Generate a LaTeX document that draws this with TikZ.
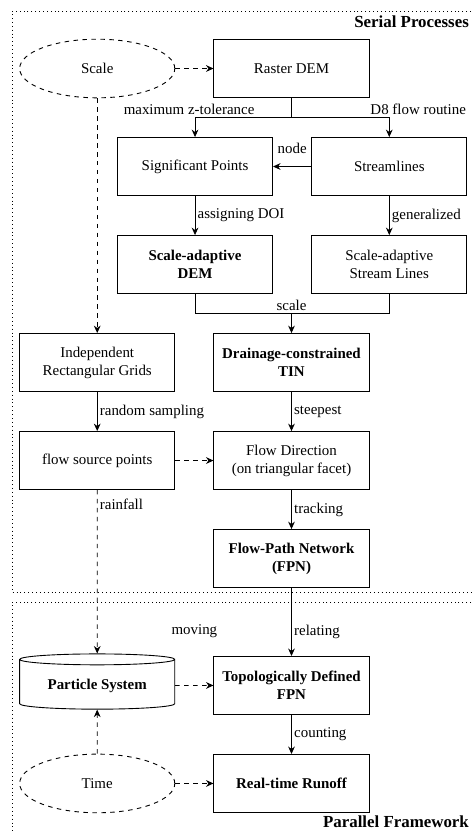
\documentclass[tikz,border=0pt]{standalone}
\usepackage{fontspec}
\setmainfont{Liberation Serif}
\usetikzlibrary{arrows.meta,positioning,calc,shapes.geometric}

\begin{document}
\begin{tikzpicture}[
  node distance=0.92cm and 0.9cm,
  box/.style={draw, semithick, minimum width=3.65cm, minimum height=1.365cm, align=center, inner sep=2pt},
  boldbox/.style={box, font=\bfseries},
  oval/.style={draw, semithick, dashed, ellipse, minimum width=3.65cm, minimum height=1.38cm, inner sep=0pt},
  db/.style={draw, semithick, cylinder, shape border rotate=90, aspect=0.1, minimum width=3.65cm, minimum height=1.3cm, align=center, font=\bfseries},
  arr/.style={-{Stealth[length=5pt, width=4.5pt]}, semithick},
  darr/.style={arr, dashed},
  lbl/.style={inner sep=1.5pt},
  frame/.style={dotted, semithick},
  title/.style={font=\fontsize{11.3}{13}\selectfont\bfseries, inner sep=0pt}
]
  \useasboundingbox (-6.859,1.612) rectangle (4.224,-17.965);

  % serial processes
  \node[box] (raster) at (0,0) {Raster DEM};
  \node[oval, left=0.9cm of raster] (scale) {Scale};
  \node[box, below=of raster, xshift=-2.27cm] (sigpts) {Significant Points};
  \node[box, right=0.9cm of sigpts] (stream) {Streamlines};
  \node[boldbox, below=of sigpts] (sadem) {Scale-adaptive\\DEM};
  \node[box, below=of stream] (sastream) {Scale-adaptive\\Stream Lines};
  \coordinate (merge) at ($(raster.south |- sadem.south)+(0,-0.46)$);
  \node[boldbox, below=0.46cm of merge] (tin) {Drainage-constrained\\TIN};
  \node[box, left=0.9cm of tin] (grids) {Independent\\Rectangular Grids};
  \node[box, below=of grids] (source) {flow source points};
  \node[box, below=of tin] (flowdir) {Flow Direction\\(on triangular facet)};
  \node[boldbox, below=of flowdir] (fpn) {Flow-Path Network\\(FPN)};

  % parallel framework
  \node[boldbox, below=1.6cm of fpn] (topo) {Topologically Defined\\FPN};
  \node[db, left=0.9cm of topo] (particles) {Particle System};
  \node[boldbox, below=of topo] (runoff) {Real-time Runoff};
  \node[oval, left=0.9cm of runoff] (time) {Time};

  \draw[darr] (scale) -- (raster);
  \draw[arr] (raster.south) -- ++(0,-0.46) -| node[lbl, pos=0.5, above, xshift=-0.14cm] (ztol) {maximum z-tolerance} (sigpts.north);
  \draw[arr] (raster.south) -- ++(0,-0.46) -| node[lbl, pos=0.5, above, xshift=0.68cm] (d8) {D8 flow routine} (stream.north);
  \draw[arr] (stream) -- node[lbl, above=0.25cm] (nodelbl) {node} (sigpts);
  \draw[arr] (sigpts) -- node[lbl, right] (doi) {assigning DOI} (sadem);
  \draw[arr] (stream) -- node[lbl, right] (gen) {generalized} (sastream);
  \draw (sadem.south) |- (merge) -| (sastream.south);
  \draw[arr] (merge) -- (tin);
  \node[lbl, above=0pt of merge] (scalelbl) {scale};
  \draw[darr] (scale) -- (grids);
  \draw[arr] (grids) -- node[lbl, right] (sampling) {random sampling} (source);
  \draw[arr] (tin) -- node[lbl, right] (steep) {steepest} (flowdir);
  \draw[darr] (source) -- (flowdir);
  \draw[arr] (flowdir) -- node[lbl, right] (track) {tracking} (fpn);
  \draw[darr] (source) -- node[lbl, pos=0.09, right] (rain) {rainfall} (particles);
  \draw[arr] (fpn) -- node[lbl, pos=0.64, right] (relate) {relating} (topo);
  \draw[darr] (particles) -- node[lbl, above=1.05cm] (move) {moving} (topo);
  \draw[arr] (topo) -- node[lbl, right] (count) {counting} (runoff);
  \draw[darr] (time) -- (particles);
  \draw[darr] (time) -- (runoff);

  % frames
  \draw[frame] (4.224,1.353) -| (-6.577,-12.318) -- (4.224,-12.318);
  \draw[frame] (4.224,-12.553) -| (-6.577,-17.965);
  \node[title, anchor=east] (serialtitle) at (4.18,1.094) {Serial Processes};
  \node[title, anchor=east] (paralleltitle) at (4.18,-17.73) {Parallel Framework};
\end{tikzpicture}
\end{document}
